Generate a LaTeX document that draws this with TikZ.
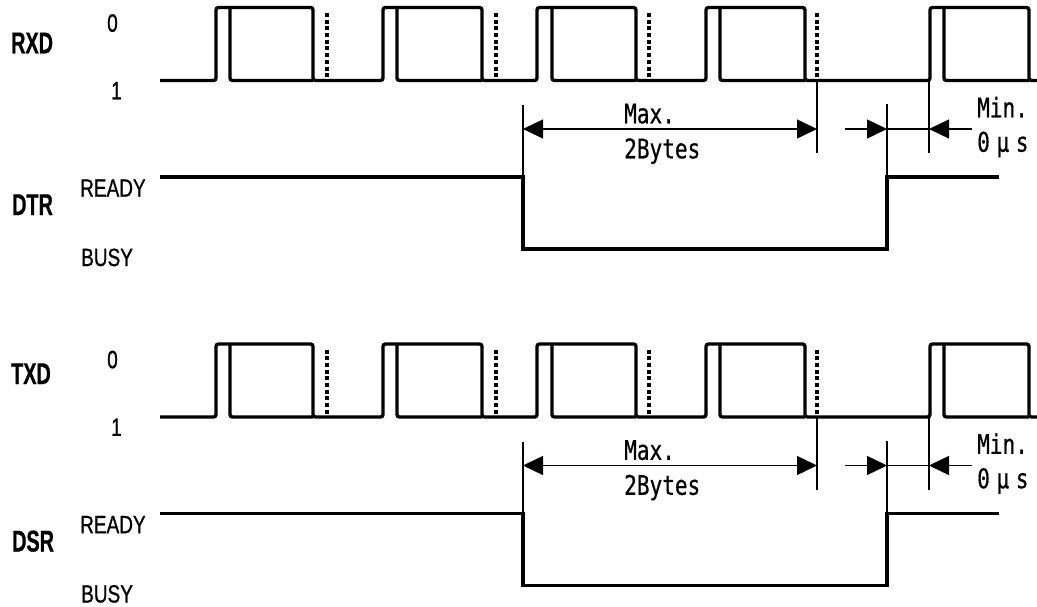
\documentclass[tikz,border=0pt]{standalone}
\usepackage{fontspec}
\usetikzlibrary{arrows.meta}
\newfontfamily\lblfont[FakeStretch=0.76,FakeBold=0.8]{Liberation Sans}
\newfontfamily\sigfont[FakeStretch=0.66,FakeBold=0.6]{Liberation Sans}
\newfontfamily\dimfont[FakeStretch=0.78,FakeBold=0.6]{DejaVu Sans Mono}
\tikzset{
 wave/.style={line width=3.4pt, rounded corners=2.5pt},
 ctlline/.style={line width=3.6pt},
 thinline/.style={line width=1.4pt},
 dotline/.style={line width=3.4pt, dash pattern=on 4pt off 2.7pt},
 dimarrow/.style={thinline, -{Triangle[length=20pt,width=19pt]}},
 dimboth/.style={thinline, {Triangle[length=20pt,width=19pt]}-{Triangle[length=20pt,width=19pt]}},
 sigtxt/.style={anchor=base west, inner sep=0pt, font=\sigfont\bfseries\fontsize{30}{30}\selectfont},
 lvltxt/.style={anchor=base west, inner sep=0pt, font=\lblfont\fontsize{25}{25}\selectfont},
 dimtxt/.style={anchor=base west, inner sep=0pt, font=\dimfont\fontsize{27}{27}\selectfont},
}
\begin{document}
\begin{tikzpicture}[x=1pt,y=-1pt]
\useasboundingbox (0,0) rectangle (1037,607);
\foreach \off/\sig/\sy/\ctlname in {0/RXD/53.3/DTR, 336.5/TXD/47.5/DSR} {
 \begin{scope}[shift={(0,\off)}]
  % data waveform
  \draw[wave] (160,80.5) -- (216,80.5) -- (216,7.5) -- (313,7.5) -- (313,80.5)
   -- (383,80.5) -- (383,7.5) -- (482,7.5) -- (482,80.5)
   -- (537,80.5) -- (537,7.5) -- (636,7.5) -- (636,80.5)
   -- (706,80.5) -- (706,7.5) -- (805,7.5) -- (805,80.5)
   -- (930,80.5) -- (930,7.5) -- (1029,7.5) -- (1029,80.5) -- (1037,80.5);
  \foreach \v/\f in {230/313, 397/482, 552/636, 720/805, 944/1029}
   \draw[wave] (\v,7.5) -- (\v,80.5) -- (\f,80.5);
  \foreach \d in {327,496,649,817}
   \draw[dotline] (\d,13) -- (\d,80.5);
  % control line
  \draw[ctlline] (160,177) -- (523,177) -- (523,249) -- (887,249) -- (887,177) -- (999,177);
  % dimension helpers
  \coordinate (\sig-l1) at (523,105);
  \coordinate (\sig-l2) at (523,177);
  \coordinate (\sig-m1) at (817,80.5);
  \coordinate (\sig-m2) at (817,153);
  \coordinate (\sig-r1) at (887,104);
  \coordinate (\sig-r2) at (887,177);
  \coordinate (\sig-n1) at (929,80.5);
  \coordinate (\sig-n2) at (929,153);
  \coordinate (\sig-aL) at (523,129);
  \coordinate (\sig-aM) at (817,129);
  \coordinate (\sig-aS) at (845,129);
  \coordinate (\sig-aR) at (887,129);
  \coordinate (\sig-aN) at (929,129);
  \coordinate (\sig-aE) at (972,129);
  \draw[thinline] (\sig-l1) -- (\sig-l2);
  \draw[thinline] (\sig-m1) -- (\sig-m2);
  \draw[thinline] (\sig-r1) -- (\sig-r2);
  \draw[thinline] (\sig-n1) -- (\sig-n2);
  \draw[dimboth] (\sig-aL) -- (\sig-aM);
  \draw[dimarrow] (\sig-aS) -- (\sig-aR);
  \draw[thinline] (\sig-aR) -- (\sig-aN);
  \draw[dimarrow] (\sig-aE) -- (\sig-aN);
  % labels
  \node[sigtxt] (\sig-name) at (11,\sy) {\sig};
  \node[lvltxt] (\sig-zero) at (107,31.7) {0};
  \node[lvltxt] (\sig-one) at (111,99.3) {1};
  \node[sigtxt] (\sig-ctl) at (12,215) {\ctlname};
  \node[lvltxt] (\sig-ready) at (80,196.7) {READY};
  \node[lvltxt] (\sig-busy) at (81,266) {BUSY};
  \node[dimtxt] (\sig-max) at (624,123.3) {Max.};
  \node[dimtxt] (\sig-bytes) at (624,158.3) {2Bytes};
  \node[dimtxt] (\sig-min) at (977,117.3) {Min.};
  \node[dimtxt] (\sig-mus) at (977,151.7) {0\makebox[26pt]{μ}s};
 \end{scope}
}
\end{tikzpicture}
\end{document}
